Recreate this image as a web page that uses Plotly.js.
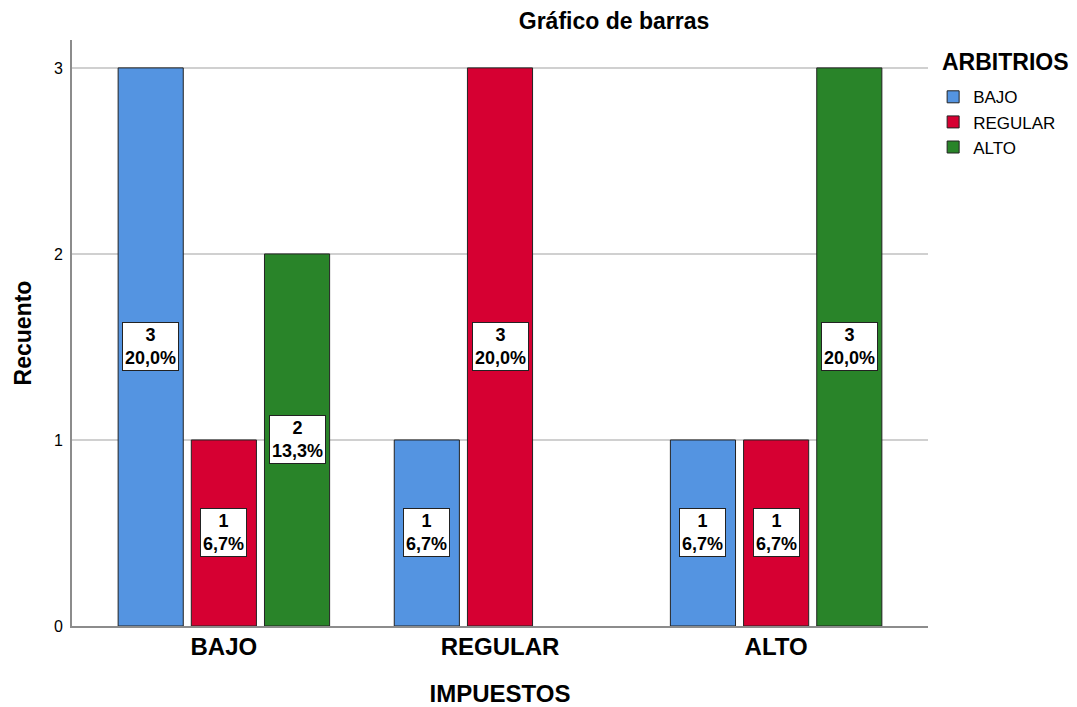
<!DOCTYPE html>
<html>
<head>
<meta charset="utf-8">
<script src="https://cdn.plot.ly/plotly-3.0.1.min.js"></script>
<style>html,body{margin:0;padding:0;background:#fff;}#chart{width:1077px;height:707px;}</style>
</head>
<body>
<div id="chart"></div>
<script>
// Data
var categories = ["BAJO", "REGULAR", "ALTO"];
var seriesNames = ["BAJO", "REGULAR", "ALTO"];
var valuesBajo = [3, 1, 1];
var valuesRegular = [1, 3, 1];
var valuesAlto = [2, 0, 3];
var seriesValues = [valuesBajo, valuesRegular, valuesAlto];
var legendTitle = "ARBITRIOS";
var seriesColors = ["#5494E1", "#D60032", "#298429"];

var total = 0;
seriesValues.forEach(function (arr) { arr.forEach(function (v) { total += v; }); });

var FONT = "Liberation Sans, Arial, sans-serif";
var bargap = 0.205;
var slot = (1 - bargap) / seriesValues.length;

var traces = seriesValues.map(function (vals, k) {
  return {
    type: "bar",
    name: seriesNames[k],
    x: categories,
    y: vals,
    marker: {
      color: seriesColors[k],
      line: { color: "#222222", width: vals.map(function (v) { return v > 0 ? 1 : 0; }) }
    },
    hoverinfo: "x+y+name"
  };
});

var annotations = [];
seriesValues.forEach(function (vals, k) {
  vals.forEach(function (v, i) {
    if (v <= 0) return;
    var pct = (v / total * 100).toFixed(1).replace(".", ",") + "%";
    annotations.push({
      x: i + (k - (seriesValues.length - 1) / 2) * slot,
      y: v / 2,
      xref: "x", yref: "y",
      text: "<b>" + v + "<br>" + pct + "</b>",
      showarrow: false,
      font: { family: FONT, size: 18, color: "#000" },
      bgcolor: "#ffffff",
      bordercolor: "#222222",
      borderwidth: 1,
      borderpad: 2
    });
  });
});

// legend title
annotations.push({
  x: (940 - 72) / 856, xref: "paper", xanchor: "left",
  y: 1 - 22 / 586, yref: "paper", yanchor: "middle",
  text: "<b>" + legendTitle + "</b>",
  showarrow: false,
  font: { family: FONT, size: 23, color: "#000" }
});

var layout = {
  width: 1077, height: 707,
  paper_bgcolor: "#fff", plot_bgcolor: "#fff",
  margin: { l: 72, r: 149, t: 40, b: 81 },
  barmode: "group",
  bargap: bargap,
  bargroupgap: 0.11,
  title: {
    text: "<b>Gráfico de barras</b>",
    font: { family: FONT, size: 23, color: "#000" },
    x: 614 / 1077, xref: "container", xanchor: "center",
    y: 1 - 21 / 707, yref: "container", yanchor: "middle"
  },
  xaxis: {
    type: "category",
    range: [-0.55, 2.55],
    showline: true, linecolor: "#8c8c8c", linewidth: 2,
    showgrid: false, ticks: "",
    tickfont: { family: FONT, size: 24, color: "#000", weight: "bold" },
    ticklabelstandoff: -2,
    title: { text: "<b>IMPUESTOS</b>", font: { family: FONT, size: 24, color: "#000" }, standoff: 26 }
  },
  yaxis: {
    range: [0, 3.15],
    tickvals: [0, 1, 2, 3],
    ticktext: ["0", "1", "2", "3"],
    showline: true, linecolor: "#8c8c8c", linewidth: 2,
    showgrid: true, gridcolor: "#d0d0d0", gridwidth: 2,
    zeroline: false, ticks: "",
    tickfont: { family: FONT, size: 16, color: "#000" },
    ticklabelstandoff: 4,
    title: { text: "<b>Recuento</b>", font: { family: FONT, size: 23, color: "#000" }, standoff: 16 }
  },
  legend: {
    x: 1.006, xanchor: "left",
    y: 0.933, yanchor: "top",
    font: { family: FONT, size: 17, color: "#000" },
    traceorder: "normal",
    itemwidth: 30,
    bgcolor: "rgba(0,0,0,0)"
  },
  annotations: annotations,
  showlegend: true
};

Plotly.newPlot("chart", traces, layout, { displayModeBar: false, staticPlot: true });
</script>
</body>
</html>
